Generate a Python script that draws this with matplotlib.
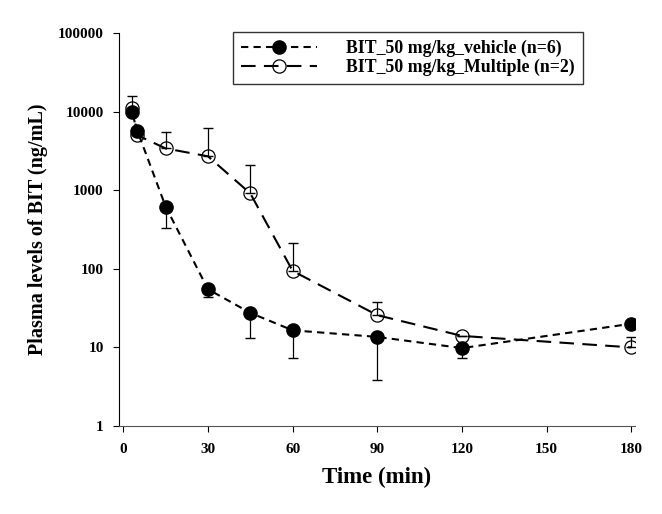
import numpy as np
import matplotlib.pyplot as plt

plt.rcParams['font.family'] = ['Liberation Serif', 'DejaVu Serif']
plt.rcParams['font.weight'] = 'bold'

# data
t_veh = [3, 5, 15, 30, 45, 60, 90, 120, 180]
veh = [10000, 5700, 620, 55, 27.5, 16.5, 13.6, 9.8, 20]
veh_low = [10000, 5700, 330, 44, 13.2, 7.4, 3.9, 7.4, 20]

t_mul = [3, 5, 15, 30, 45, 60, 90, 120, 180]
mul = [11100, 5000, 3400, 2700, 910, 94, 25.7, 14, 10]
mul_high = [16000, 5000, 5500, 6200, 2100, 210, 38, 14, 13.6]

veh = np.array(veh)
mul = np.array(mul)
veh_err = [veh - np.array(veh_low), np.zeros(len(veh))]
mul_err = [np.zeros(len(mul)), np.array(mul_high) - mul]

fig = plt.figure(figsize=(6.62, 5.14), dpi=100)
ax = fig.add_axes([0.1798, 0.1712, 0.7795, 0.7646])

ax.errorbar(t_veh, veh, yerr=veh_err, fmt='none', ecolor='black', elinewidth=0.9, capsize=3.3, zorder=2)
ax.errorbar(t_mul, mul, yerr=mul_err, fmt='none', ecolor='black', elinewidth=0.9, capsize=3.3, zorder=2)

l1, = ax.plot(t_veh, veh, color='black', lw=1.5, dashes=(3.5, 2.5), marker='o', ms=9.5,
              mfc='black', mec='black', zorder=3, label='BIT_50 mg/kg_vehicle (n=6)')
l2, = ax.plot(t_mul, mul, color='black', lw=1.5, dashes=(7, 4), marker='o', ms=9.5,
              mfc='none', mec='black', mew=0.9, zorder=4, label='BIT_50 mg/kg_Multiple (n=2)')

ax.set_yscale('log')
ax.set_ylim(1, 100000)
ax.set_xlim(-1.5, 181.3)
ax.set_xticks([0, 30, 60, 90, 120, 150, 180])
ax.set_yticks([1, 10, 100, 1000, 10000, 100000])
ax.set_yticklabels(['1', '10', '100', '1000', '10000', '100000'])
ax.minorticks_off()
ax.tick_params(axis='y', direction='out', length=4, labelsize=11, pad=7)
ax.tick_params(axis='x', direction='out', length=4, labelsize=11, pad=8)
for lab in ax.get_xticklabels() + ax.get_yticklabels():
    lab.set_fontweight('bold')

ax.spines['top'].set_visible(False)
ax.spines['right'].set_visible(False)
ax.spines['bottom'].set_color('#555555')

ax.set_xlabel('Time (min)', fontsize=16.5, fontweight='bold', labelpad=8)
ax.set_ylabel('Plasma levels of BIT (ng/mL)', fontsize=14.5, fontweight='bold', labelpad=7)

leg = fig.legend(handles=[l1, l2], loc='upper left', bbox_to_anchor=(233 / 662, 1 - 31.5 / 514),
                 frameon=True, fancybox=False, edgecolor='black', handlelength=4.3,
                 prop={'weight': 'bold', 'size': 12.8}, borderpad=0.45, labelspacing=0.1,
                 handletextpad=1.6, borderaxespad=0)
leg.get_frame().set_linewidth(1)

fig.savefig('out.png', dpi=100, facecolor='white')
